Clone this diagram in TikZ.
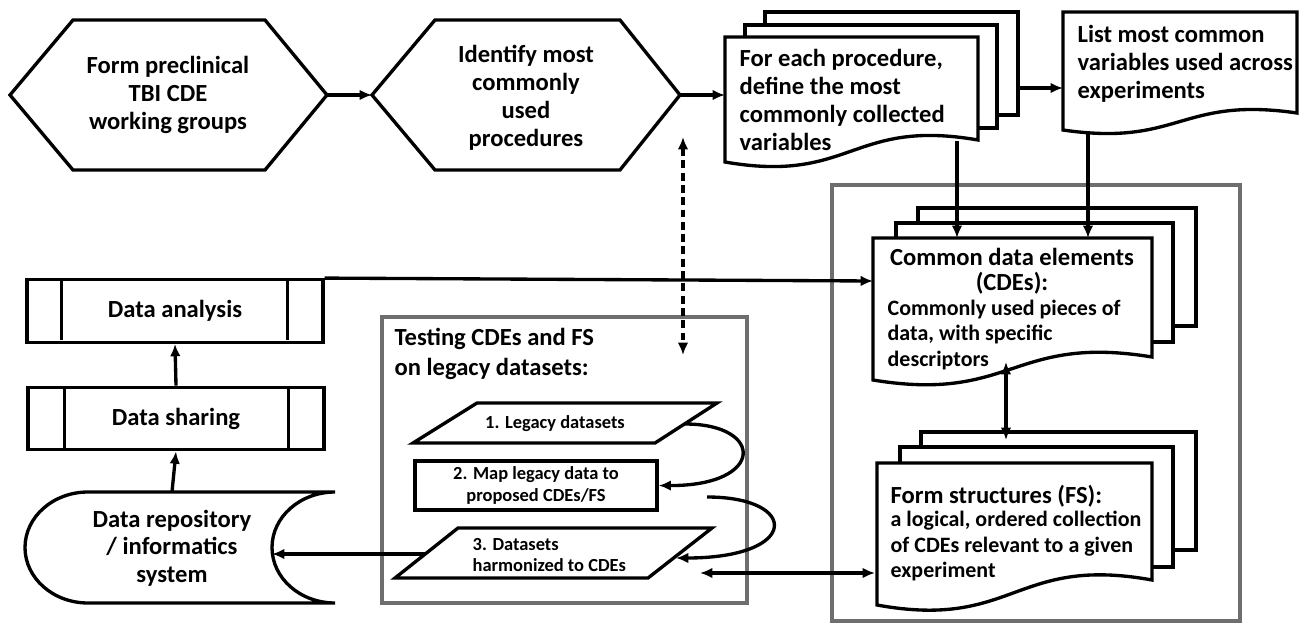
\documentclass[tikz,border=0pt]{standalone}
\usepackage{fontspec}
\setmainfont{Carlito}
\usepackage{tikz}
\usetikzlibrary{arrows.meta, positioning}

% foglio con bordo inferiore ondulato
\newcommand{\docsheet}[5]{%
  \draw[fill=white] (#1,#2) -- (#3,#2) -- (#3,#5)
    .. controls ({(#1+#3)/2},{2*#5-#4}) and ({(#1+#3)/2},{2*#4-#5}) .. (#1,#4) -- cycle;}

\begin{document}
\begin{tikzpicture}[x=0.02cm, y=-0.02cm, line width=1.9pt, >={Latex[length=7pt, width=6pt]}]
    % Stili
    \tikzstyle{txt} = [inner sep=0pt, font=\fontsize{14}{16}\selectfont\bfseries]
    \tikzstyle{small} = [inner sep=0pt, font=\fontsize{12.5}{14.4}\selectfont\bfseries]
    \tikzstyle{tiny} = [inner sep=0pt, font=\fontsize{10.5}{12.5}\selectfont\bfseries]
    \tikzstyle{frame} = [draw=black!57, line width=2.8pt]
    \tikzstyle{sheet} = [draw, fill=white]
    \tikzstyle{bar} = [draw, minimum width=5.92cm, minimum height=1.25cm]

    \useasboundingbox (0,0) rectangle (1302,626);

    % Cornici
    \draw[frame] (832,185) rectangle (1240,621);
    \draw[frame] (382,317) rectangle (747,603);

    % Esagoni
    \draw (10,95) -- (73,20) -- (265,20) -- (327,95) -- (265,170) -- (73,170) -- cycle;
    \draw (372,95) -- (435,20) -- (620,20) -- (680,95) -- (620,170) -- (435,170) -- cycle;
    \node [txt, align=center] (groups) at (168,95) {Form preclinical\\TBI CDE\\working groups};
    \node [txt, align=center] (procs) at (526,98) {Identify most\\commonly\\used\\procedures};
    \coordinate (groupsOut) at (327,95);
    \coordinate (procsIn) at (372,95);
    \coordinate (procsOut) at (680,95);

    % Documenti in alto
    \draw[sheet] (765,12) rectangle (1018,115);
    \draw[sheet] (745,25) rectangle (997,128);
    \docsheet{725}{37}{978}{162}{140}
    \node [txt, align=left, anchor=west] (vars) at (738,100) {For each procedure,\\define the most\\commonly collected\\variables};
    \coordinate (varsIn) at (725,95);
    \coordinate (varsOut) at (1018,88);
    \coordinate (varsDown) at (957,141);

    \docsheet{1063}{12}{1297}{130}{113}
    \node [txt, align=left, anchor=west] (common) at (1076,64) {List most common\\variables used across\\experiments};
    \coordinate (commonIn) at (1063,88);
    \coordinate (commonDown) at (1088,132);

    % CDE
    \draw[sheet] (918,208) rectangle (1196,326);
    \draw[sheet] (896,223) rectangle (1173,342);
    \docsheet{873}{238}{1152}{380}{357}
    \node [txt, align=center, font=\fontsize{14}{14.2}\selectfont\bfseries] (cdeHead) at (1012,271) {Common data elements\\(CDEs):};
    \node [small, align=left, anchor=west] (cdeBody) at (886,335) {Commonly used pieces of\\data, with specific\\descriptors};
    \coordinate (cdeIn) at (873,281);
    \coordinate (cdeTopA) at (957,238);
    \coordinate (cdeTopB) at (1088,238);
    \coordinate (cdeLow) at (1006,362);

    % FS
    \draw[sheet] (921,432) rectangle (1196,550);
    \draw[sheet] (900,447) rectangle (1173,567);
    \docsheet{877}{463}{1152}{605}{580}
    \node [txt, anchor=west] (fsHead) at (889,496) {Form structures (FS):};
    \node [small, align=left, anchor=west] (fsBody) at (889,546) {a logical, ordered collection\\of CDEs relevant to a given\\experiment};
    \coordinate (fsTop) at (1006,440);
    \coordinate (fsIn) at (875,573);

    % Test sui dati
    \node [txt, align=left, anchor=west, font=\fontsize{14}{17}\selectfont\bfseries] (testing) at (393,354) {Testing CDEs and FS\\on legacy datasets:};
    \draw (477,403) -- (717,403) -- (655,443) -- (413,443) -- cycle;
    \node [tiny] (legacy) at (555,424) {1. Legacy datasets};
    \coordinate (legacyOut) at (685,424);
    \node [tiny, draw, align=center, minimum width=4.84cm, minimum height=0.98cm] (mapping) at (536,485.5) {2. Map legacy data to\\proposed CDEs/FS};
    \coordinate (mappingOut) at (707,497);
    \draw (458,528) -- (712,528) -- (648,578) -- (395,578) -- cycle;
    \node [tiny, align=left, anchor=west] (harmon) at (471,555) {3. Datasets\\harmonized to CDEs};
    \coordinate (harmonIn) at (676,558);
    \coordinate (harmonOut) at (425,554);
    \coordinate (harmonSide) at (700,573);
    \coordinate (dashTop) at (683,137);
    \coordinate (dashBot) at (683,355);

    % Colonna sinistra
    \node [txt, bar] (analysis) at (175,311) {Data analysis};
    \draw (analysis.north west) ++(36,0) -- ++(0,62);
    \draw (analysis.north east) ++(-37,0) -- ++(0,62);
    \node [txt, bar] (sharing) at (176,418.5) {Data sharing};
    \draw (sharing.north west) ++(38,0) -- ++(0,63);
    \draw (sharing.north east) ++(-37,0) -- ++(0,63);
    \draw (88,492) -- (335,492) arc[start angle=270, end angle=90, x radius=63, y radius=55.5]
        -- (88,603) arc[start angle=90, end angle=270, x radius=63, y radius=55.5] -- cycle;
    \node [txt, align=center, font=\fontsize{14}{15.6}\selectfont\bfseries] (repo) at (172,548) {Data repository\\/ informatics\\system};
    \coordinate (repoTop) at (172,492);
    \coordinate (repoIn) at (272,554);

    % Collegamenti
    \draw [->] (groupsOut) -- (procsIn);
    \draw [->] (procsOut) -- (varsIn);
    \draw [->] (varsOut) -- (commonIn);
    \draw [->] (varsDown) -- (cdeTopA);
    \draw [->] (commonDown) -- (cdeTopB);
    \draw [->] (analysis.north east) -- (cdeIn);
    \draw [<->] (cdeLow) -- (fsTop);
    \draw [<->] (harmonSide) -- (fsIn);
    \draw [<->, dash pattern=on 4.5pt off 2.5pt] (dashTop) -- (dashBot);
    \draw [->] (legacyOut) .. controls (765,424) and (765,486) .. (mapping.east);
    \draw [->] (mappingOut) .. controls (800,497) and (800,558) .. (harmonIn);
    \draw [->] (harmonOut) -- (repoIn);
    \draw [->] (sharing.north) -- (analysis.south);
    \draw [->] (repoTop) -- (sharing.south);

\end{tikzpicture}
\end{document}
